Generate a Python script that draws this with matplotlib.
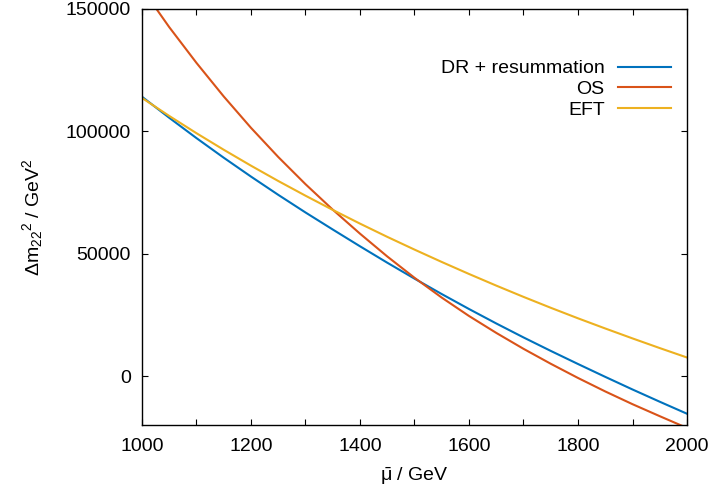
import matplotlib
matplotlib.use("Agg")
import matplotlib.pyplot as plt
from matplotlib.ticker import MultipleLocator

plt.rcParams['font.family'] = ['Liberation Sans', 'DejaVu Sans']
plt.rcParams['mathtext.fontset'] = 'custom'
plt.rcParams['mathtext.rm'] = 'Liberation Sans'
plt.rcParams['mathtext.it'] = 'Liberation Sans:italic'

# renormalisation scale in GeV
mu = [1000, 1050, 1100, 1150, 1200, 1250, 1300, 1350, 1400, 1450, 1500,
      1550, 1600, 1650, 1700, 1750, 1800, 1850, 1900, 1950, 2000]

# Delta m_22^2 in GeV^2 for the three schemes
dr_resum = [114000, 105400, 97100, 89100, 81400, 73950, 66750, 59800, 52950, 46250, 39750,
            33450, 27350, 21450, 15750, 10250, 4900, -350, -5500, -10500, -15400]
os_scheme = [158200, 142400, 127800, 114100, 101300, 89400, 78300, 67900, 58100, 48800, 40100,
             32000, 24500, 17600, 11100, 5000, -800, -6300, -11500, -16400, -21200]
eft = [113500, 106150, 99100, 92350, 85850, 79600, 73600, 67800, 62200, 56800, 51600,
       46550, 41650, 36900, 32300, 27850, 23550, 19400, 15350, 11400, 7550]

labels = ['DR + resummation', 'OS', 'EFT']
colors = ['#0072bd', '#d95319', '#edb120']

fs = 14

fig = plt.figure(figsize=(7.16, 4.95), dpi=100)
ax = fig.add_axes([0.1983, 0.1414, 0.9595 - 0.1983, 0.9828 - 0.1414])

for ys, lab, c in zip([dr_resum, os_scheme, eft], labels, colors):
    ax.plot(mu, ys, color=c, lw=1.5, label=lab)

ax.set_xlim(1000, 2000)
ax.set_ylim(-20000, 150000)
ax.xaxis.set_major_locator(MultipleLocator(200))
ax.xaxis.set_minor_locator(MultipleLocator(100))
ax.yaxis.set_major_locator(MultipleLocator(50000))
ax.tick_params(which='both', direction='in', top=True, right=True,
               length=4.3, width=0.8, labelsize=fs)
ax.tick_params(axis='y', pad=8)
ax.tick_params(axis='x', pad=9)
for s in ax.spines.values():
    s.set_linewidth(1.0)

ax.set_xlabel(r'$\bar{\mathrm{\mu}}$ / GeV', fontsize=fs, labelpad=8)
ax.set_ylabel('\u0394m$_{22}$$^2$ / GeV$^2$', fontsize=fs, labelpad=15)

ax.legend(loc='upper right', bbox_to_anchor=(0.9706, 0.877), frameon=False,
          markerfirst=False, fontsize=fs, handlelength=2.74,
          handletextpad=0.67, labelspacing=0.16, borderaxespad=0, borderpad=0)

fig.savefig('out.png', dpi=100)
